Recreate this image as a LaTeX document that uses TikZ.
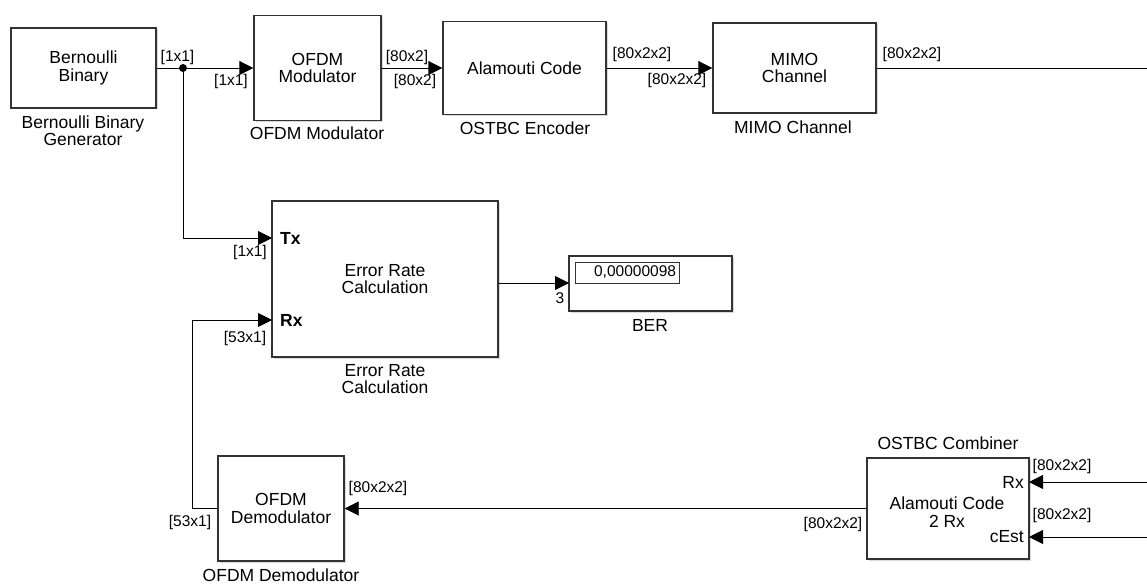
\documentclass[tikz,border=0pt]{standalone}
\usepackage{fontspec}
\setmainfont{Liberation Sans}
\usetikzlibrary{arrows.meta,shadows}
\newcommand\blkfont{\fontsize{17.5}{17.5}\selectfont}
\newcommand\portfont{\fontsize{15.5}{16}\selectfont}
\begin{document}
\begin{tikzpicture}[x=1pt,y=-1pt,
 blk/.style={draw=black!80, line width=1.4pt, fill=white, inner sep=0pt, align=center, font=\blkfont,
   drop shadow={shadow xshift=1.5pt,shadow yshift=-1.5pt,opacity=0.3}},
 lbl/.style={font=\blkfont, align=center, inner sep=0pt},
 port/.style={font=\portfont, inner sep=0pt},
 pname/.style={font=\blkfont, inner sep=0pt},
 sig/.style={line width=0.9pt, -{Triangle[length=14pt,width=14pt]}},
 wire/.style={line width=0.9pt}]
\useasboundingbox (0,0) rectangle (1147,583);
% blocks
\node[blk, minimum width=145pt, minimum height=80pt] (bern) at (83.5,68) {Bernoulli\\Binary};
\node[blk, minimum width=127pt, minimum height=105pt] (ofdm) at (317.5,68) {OFDM\\Modulator};
\node[blk, minimum width=163pt, minimum height=93pt] (ala) at (524.5,68) {Alamouti Code};
\node[blk, minimum width=163pt, minimum height=90pt] (mimo) at (794.5,68) {MIMO\\Channel};
\node[blk, minimum width=226pt, minimum height=156pt] (err) at (385,279) {Error Rate\\Calculation};
\node[blk, minimum width=163pt, minimum height=55pt] (ber) at (650.5,283.5) {};
\node[draw=black!80, line width=0.8pt, minimum width=104pt, minimum height=21pt, inner sep=0pt,
  font=\portfont, text width=98pt, align=right] (berval) at (627,272.5) {0,00000098};
\node[blk, minimum width=126pt, minimum height=105pt] (demod) at (281,508.5) {OFDM\\Demodulator};
\node[blk, minimum width=162pt, minimum height=101pt] (comb) at (948,508.5) {};
\node[lbl] (combtxt) at (947,512) {Alamouti Code\\2 Rx};
% port names
\node[pname, font=\bfseries\blkfont, anchor=west] (txname) at (280,238) {Tx};
\node[pname, font=\bfseries\blkfont, anchor=west] (rxname) at (280,320) {Rx};
\node[pname, anchor=east] (crxname) at (1024,482) {Rx};
\node[pname, anchor=east] (cestname) at (1024,537) {cEst};
% block names
\node[lbl] (bernlbl) at (83,130.5) {Bernoulli Binary\\Generator};
\node[lbl] (ofdmlbl) at (317,133) {OFDM Modulator};
\node[lbl] (alalbl) at (525,128) {OSTBC Encoder};
\node[lbl] (mimolbl) at (793,127) {MIMO Channel};
\node[lbl] (errlbl) at (385,379) {Error Rate\\Calculation};
\node[lbl] (berlbl) at (650,325) {BER};
\node[lbl] (demodlbl) at (281,575) {OFDM Demodulator};
\node[lbl] (comblbl) at (948,443) {OSTBC Combiner};
% connectors
\coordinate (j) at (183,68);
\draw[wire] (bern.east) -- (j);
\draw[sig] (j) -- (ofdm.west);
\fill (j) circle (4pt);
\draw[sig] (ofdm.east) -- (ala.west);
\draw[sig] (ala.east) -- (mimo.west);
\coordinate (mimoend) at (1147,68);
\draw[wire] (mimo.east) -- (mimoend);
\coordinate (tx) at (272,238);
\draw[sig] (j) |- (tx);
\coordinate (rx) at (272,320);
\draw[sig] (demod.west) -- ++(-25,0) |- (rx);
\coordinate (berin) at (569,283);
\draw[sig] (err.east |- berin) -- (berin);
\draw[sig] (comb.west) -- (demod.east);
\coordinate (crx) at (1029,482);
\coordinate (cest) at (1029,537);
\coordinate (crxin) at (1147,482);
\coordinate (cestin) at (1147,537);
\draw[sig] (crxin) -- (crx);
\draw[sig] (cestin) -- (cest);
% signal dimension labels
\node[port] (l1) at (177.5,57) {[1x1]};
\node[port] (l2) at (231,81) {[1x1]};
\node[port] (l3) at (407,57) {[80x2]};
\node[port] (l4) at (415,81) {[80x2]};
\node[port] (l5) at (642,54) {[80x2x2]};
\node[port] (l6) at (677,80) {[80x2x2]};
\node[port] (l7) at (912,54) {[80x2x2]};
\node[port] (l8) at (250,252) {[1x1]};
\node[port] (l9) at (245,338) {[53x1]};
\node[port] (l10) at (560,298) {3};
\node[port] (l11) at (190,522) {[53x1]};
\node[port] (l12) at (378,488) {[80x2x2]};
\node[port] (l13) at (833,524) {[80x2x2]};
\node[port] (l14) at (1062,466) {[80x2x2]};
\node[port] (l15) at (1062,515) {[80x2x2]};
\end{tikzpicture}
\end{document}
